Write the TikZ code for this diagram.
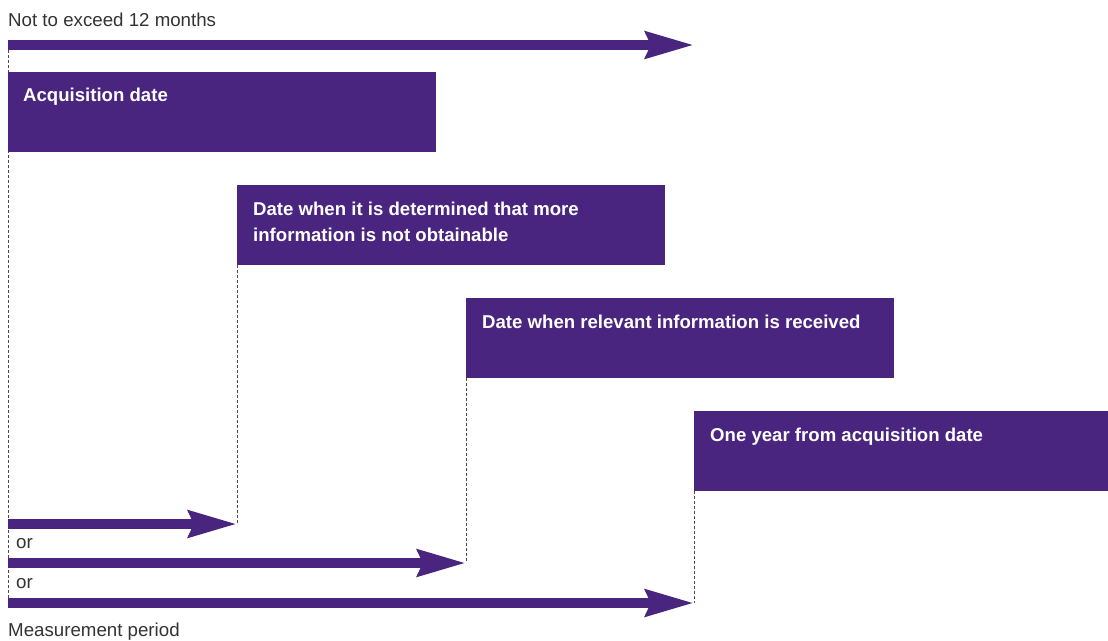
\documentclass[tikz,border=0pt]{standalone}
\usepackage{fontspec}
\setmainfont{Liberation Sans}
\usepackage{xcolor}
\usetikzlibrary{arrows, arrows.meta}

\definecolor{purp}{RGB}{73,37,128}
\tikzset{
  datebox/.style={fill=purp, anchor=north west, inner sep=0pt, minimum height=80pt},
  boxtext/.style={text=white, font=\fontsize{18.6}{26}\selectfont\bfseries, anchor=base west, inner sep=0pt, align=left},
  plaintext/.style={text=black!80, font=\fontsize{18.7}{26}\selectfont, anchor=base west, inner sep=0pt},
  period/.style={draw=purp, line width=10pt, -{Stealth[length=48pt,width=26pt,inset=5pt]}},
  guide/.style={draw=black!70, line width=0.8pt, dash pattern=on 3pt off 2pt},
}

\begin{document}
\begin{tikzpicture}[x=1pt, y=-1pt]
\useasboundingbox (0,0) rectangle (1108,640);
%\draw[step=50,gray,very thin] (0,0) grid (1108,640); %background grid

\coordinate (s0) at (8,45);
\coordinate (s1) at (8,524);
\coordinate (s2) at (8,563);
\coordinate (s3) at (8,603);

\draw[guide] (s0) -- (s3);

\node[datebox, minimum width=428pt] (acq) at (8,72) {};
\node[datebox, minimum width=428pt] (det) at (237,185) {};
\node[datebox, minimum width=428pt] (rec) at (466,298) {};
\node[datebox, minimum width=414pt] (year) at (694,411) {};

% multi-line text: base is the last line
\node[boxtext] (acqtxt)  at (23,101)  {Acquisition date};
\node[boxtext] (dettxt)  at (253,241) {Date when it is determined that more\\information is not obtainable};
\node[boxtext] (rectxt)  at (482,328) {Date when relevant information is received};
\node[boxtext] (yeartxt) at (710,441) {One year from acquisition date};

\node[plaintext] (top) at (8,26)  {Not to exceed 12 months};
\node[plaintext] (or1) at (16,548) {or};
\node[plaintext] (or2) at (16,588) {or};
\node[plaintext] (bot) at (8,636) {Measurement period};

\draw[guide] (det.south west) -- (s1 -| det.south west);
\draw[guide] (rec.south west) -- (s2 -| rec.south west);
\draw[guide] (year.south west) -- (s3 -| year.south west);

\draw[period] (s0) -- (s0 -| year.west);
\draw[period] (s1) -- (s1 -| det.west);
\draw[period] (s2) -- (s2 -| rec.west);
\draw[period] (s3) -- (s3 -| year.west);

\end{tikzpicture}
\end{document}
